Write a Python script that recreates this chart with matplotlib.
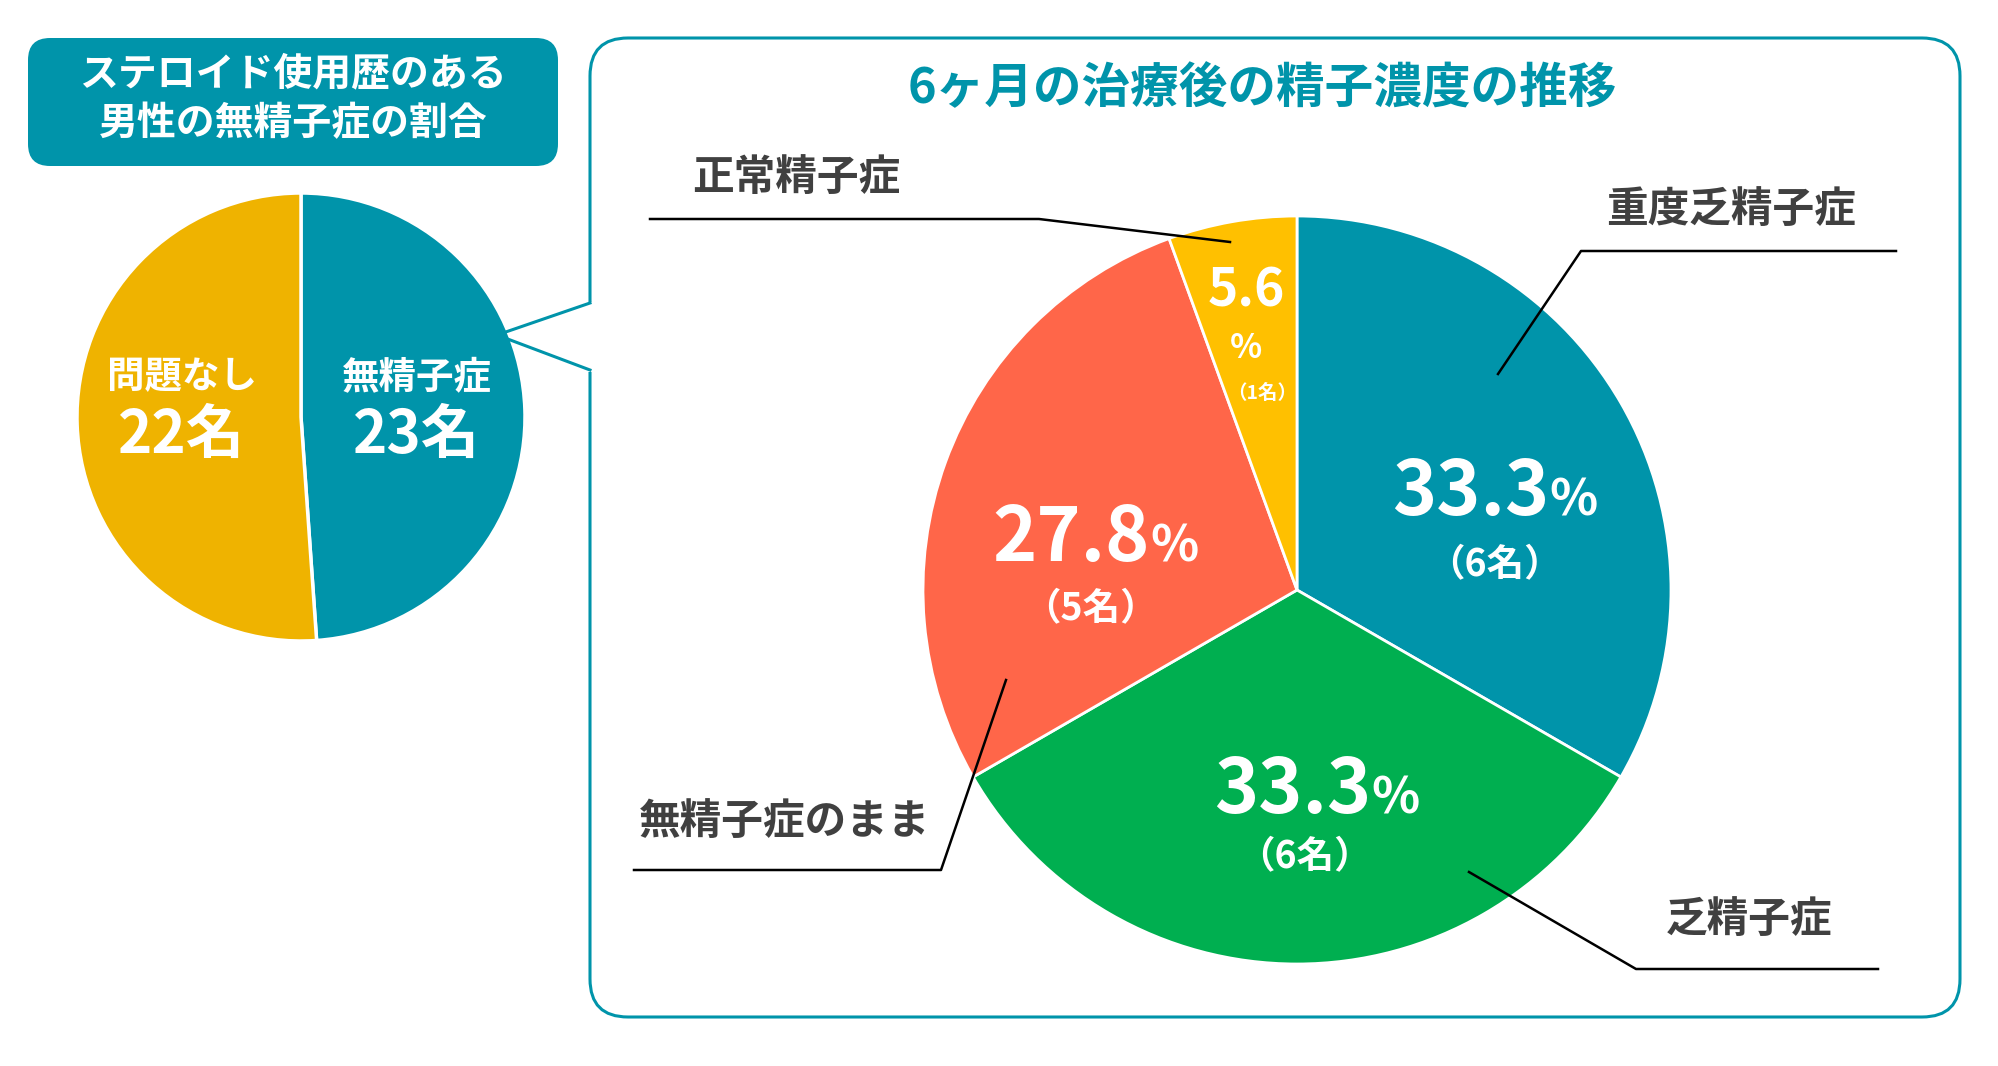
import matplotlib
matplotlib.use("Agg")
import matplotlib.pyplot as plt
from matplotlib.patches import FancyBboxPatch

plt.rcParams['font.family'] = ['Noto Sans CJK JP', 'DejaVu Sans']

# data
left_labels = ['無精子症', '問題なし']
left_counts = [23, 22]
# wedge sizes as drawn in the picture (teal slice is a bit under half)
left_wedges = [22, 23]

right_labels = ['重度乏精子症', '乏精子症', '無精子症のまま', '正常精子症']
right_counts = [6, 6, 5, 1]
right_pcts = ['33.3', '33.3', '27.8', '5.6']

TEAL = '#0094AA'
GREEN = '#00AF50'
ORANGE = '#FF6649'
YELLOW = '#FFC000'
YELLOW_L = '#EFB300'
GRAY = '#404040'

W, H = 1999, 1066
fig = plt.figure(figsize=(W / 100, H / 100), dpi=100)
ax = fig.add_axes([0, 0, 1, 1])

def Y(y):
    # pixel row from top -> data y
    return H - y

# ---- left pie
ax.pie(left_wedges, colors=[TEAL, YELLOW_L], startangle=90, counterclock=False,
       center=(301, Y(417)), radius=224,
       wedgeprops=dict(edgecolor='white', linewidth=2.5))

ax.text(417, Y(377), left_labels[0], color='white', fontsize=27, fontweight='bold', ha='center', va='center')
ax.text(417, Y(436), f'{left_counts[0]}名', color='white', fontsize=42, fontweight='bold', ha='center', va='center')
ax.text(182, Y(377), left_labels[1], color='white', fontsize=27, fontweight='bold', ha='center', va='center')
ax.text(182, Y(436), f'{left_counts[1]}名', color='white', fontsize=42, fontweight='bold', ha='center', va='center')

# left title box
ax.add_patch(FancyBboxPatch((28, Y(166)), 530, 128, boxstyle='round,pad=0,rounding_size=22',
                            facecolor=TEAL, edgecolor='none', zorder=2))
ax.text(293, Y(74), 'ステロイド使用歴のある', color='white', fontsize=28, fontweight='bold', ha='center', va='center', zorder=3)
ax.text(293, Y(124), '男性の無精子症の割合', color='white', fontsize=28, fontweight='bold', ha='center', va='center', zorder=3)

# ---- right box with callout notch
ax.add_patch(FancyBboxPatch((590, Y(1017)), 1370, 979, boxstyle='round,pad=0,rounding_size=38',
                            facecolor='none', edgecolor=TEAL, linewidth=2.2, zorder=2))
ax.plot([590, 590], [Y(305), Y(368)], color='white', linewidth=5, zorder=3)
ax.plot([590, 497, 590], [Y(303), Y(335), Y(370)], color=TEAL, linewidth=2.2, zorder=4,
        solid_joinstyle='miter')

ax.text(1262, Y(89), '6ヶ月の治療後の精子濃度の推移', color=TEAL, fontsize=35, fontweight='bold',
        ha='center', va='center')

# ---- right pie
ax.pie(right_counts, colors=[TEAL, GREEN, ORANGE, YELLOW], startangle=90, counterclock=False,
       center=(1297, Y(590)), radius=374,
       wedgeprops=dict(edgecolor='white', linewidth=2))

# big percentage labels: number + smaller %
big = [(1549, 515, 1494, 565), (1371, 813, 1304, 857), (1150, 561, 1090, 609)]
for i, (xs, yb, xc, yc) in enumerate(big):
    ax.text(xs, Y(yb), right_pcts[i], color='white', fontsize=54, fontweight='bold', ha='right', va='baseline')
    ax.text(xs, Y(yb), '%', color='white', fontsize=36, fontweight='bold', ha='left', va='baseline')
    ax.text(xc, Y(yc), f'（{right_counts[i]}名）', color='white', fontsize=27, fontweight='bold', ha='center', va='center')

# small yellow slice
ax.text(1246, Y(291), right_pcts[3], color='white', fontsize=37, fontweight='bold', ha='center', va='center')
ax.text(1246, Y(348), '%', color='white', fontsize=24, fontweight='bold', ha='center', va='center')
ax.text(1262, Y(393), f'（{right_counts[3]}名）', color='white', fontsize=14, fontweight='bold', ha='center', va='center')

# category labels with leader lines
cats = [
    (right_labels[0], 1731, 210, [(1896, 251), (1581, 251), (1498, 374)]),
    (right_labels[1], 1749, 920, [(1878, 969), (1636, 969), (1469, 872)]),
    (right_labels[2], 785, 822, [(634, 870), (941, 870), (1006, 680)]),
    (right_labels[3], 796, 178, [(650, 219), (1039, 219), (1230, 242)]),
]
for name, tx, ty, pts in cats:
    ax.text(tx, Y(ty), name, color=GRAY, fontsize=30, fontweight='bold', ha='center', va='center')
    ax.plot([p[0] for p in pts], [Y(p[1]) for p in pts], color='black', linewidth=1.8, zorder=5)

ax.set_xlim(0, W)
ax.set_ylim(0, H)
ax.set_aspect('equal')
ax.axis('off')

fig.savefig('out.png', dpi=100, facecolor='white')
